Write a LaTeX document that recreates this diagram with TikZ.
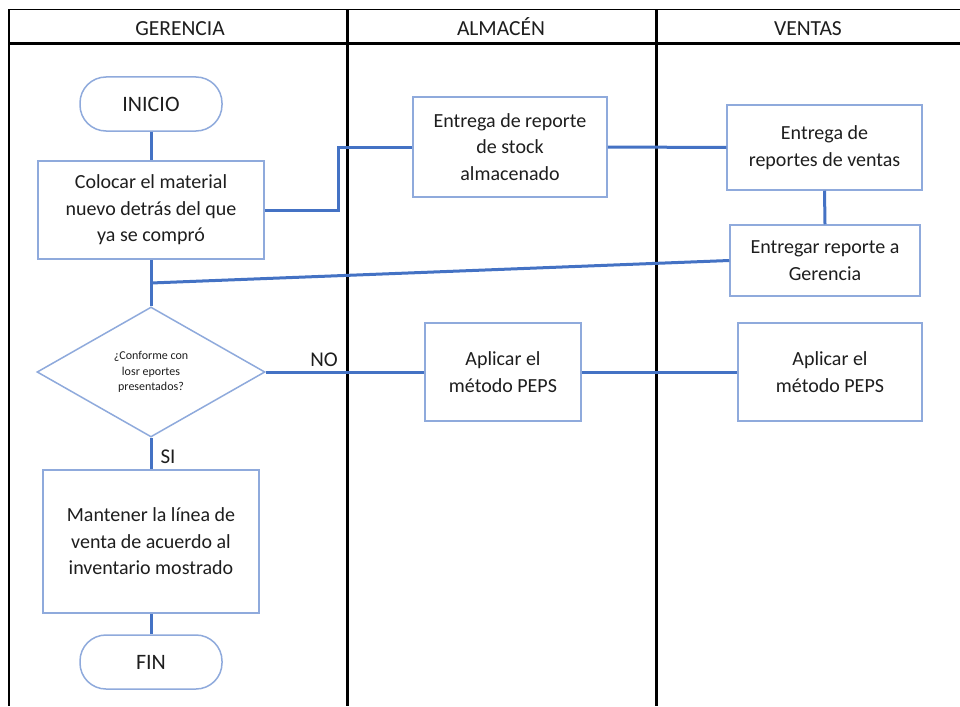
\documentclass[tikz,border=0pt]{standalone}
\usepackage{fontspec}
\setmainfont{Carlito}
\usetikzlibrary{shapes.geometric}
\definecolor{conn}{RGB}{68,114,196}
\definecolor{bord}{RGB}{143,170,220}
\definecolor{txt}{RGB}{30,30,30}
\begin{document}
\begin{tikzpicture}[x=1pt,y=-1pt,
  proc/.style={draw=bord, line width=1.5pt, fill=white, inner sep=0pt, align=center,
    font=\fontsize{20}{26.5}\selectfont, text=txt},
  term/.style={proc, rounded corners=26pt, minimum width=142pt, minimum height=54pt,
    font=\fontsize{22}{26}\selectfont},
  decis/.style={draw=bord, line width=1.5pt, fill=white, diamond, inner sep=0pt, align=center,
    minimum width=228pt, minimum height=130pt, font=\fontsize{12}{15.5}\selectfont, text=txt},
  link/.style={draw=conn, line width=3pt},
  lane/.style={draw=black, line width=3pt},
  thinlane/.style={draw=black, line width=1.5pt},
  head/.style={font=\fontsize{21.5}{24}\selectfont, text=txt, anchor=base},
  lbl/.style={font=\fontsize{21}{24}\selectfont, text=txt}
]
\useasboundingbox (0,0) rectangle (960,706);
\fill[white] (0,0) rectangle (960,706);

% swimlane frame
\coordinate (tl) at (9,9.5);
\coordinate (tr) at (960,9.5);
\coordinate (hl) at (9,43.5);
\coordinate (hr) at (960,43.5);
\coordinate (bl) at (9,706);
\coordinate (d1t) at (347,9.5);
\coordinate (d1b) at (347,706);
\coordinate (d2t) at (656,9.5);
\coordinate (d2b) at (656,706);
\draw[thinlane] (tl) -- (tr);
\draw[thinlane] (tl) -- (bl);
\draw[lane] (d1t) -- (d1b);
\draw[lane] (d2t) -- (d2b);
\draw[draw=black, line width=3.5pt] (hl) -- (hr);

\node[head] (hg) at (180,35.5) {GERENCIA};
\node[head] (ha) at (501,35.5) {ALMACÉN};
\node[head] (hv) at (808,35.5) {VENTAS};

% nodes
\node[term] (inicio) at (151,104) {INICIO};
\node[proc, minimum width=226pt, minimum height=98pt] (colocar) at (151,210)
  {Colocar el material\\nuevo detrás del que\\ya se compró};
\node[proc, minimum width=194pt, minimum height=100pt] (entrega) at (510,147)
  {Entrega de reporte\\de stock\\almacenado};
\node[proc, minimum width=195pt, minimum height=85pt] (ventas1) at (824.5,147.5)
  {Entrega de\\reportes de ventas};
\node[proc, minimum width=190pt, minimum height=71pt] (ventas2) at (825,260.5)
  {Entregar reporte a\\Gerencia};
\node[decis] (decision) at (151,372)
  {¿Conforme con\\losr eportes\\presentados?};
\node[proc, minimum width=156pt, minimum height=98pt] (aplicar1) at (503,372)
  {Aplicar el\\método PEPS};
\node[proc, minimum width=184pt, minimum height=98pt] (aplicar2) at (830,372)
  {Aplicar el\\método PEPS};
\node[proc, minimum width=216pt, minimum height=143pt] (mantener) at (151,541.5)
  {Mantener la línea de\\venta de acuerdo al\\inventario mostrado};
\node[term] (fin) at (151,662) {FIN};

% junction coordinates
\coordinate (jx) at (338,0);
\coordinate (jm) at (151,283);

% connectors
\draw[link] (inicio) -- (colocar);
\draw[link] (colocar.east) -- (colocar.east -| jx) |- (entrega.west);
\draw[link] (entrega.east) -- (ventas1.west);
\draw[link] (ventas1.south) -- (ventas2.north);
\draw[link] (ventas2.west) -- (jm);
\draw[link] (colocar.south) -- (decision.north);
\draw[link] (decision.east) -- (aplicar1.west);
\draw[link] (aplicar1.east) -- (aplicar2.west);
\draw[link] (decision.south) -- (mantener.north);
\draw[link] (mantener.south) -- (fin.north);

\node[lbl] (no) at (324,360) {NO};
\node[lbl] (si) at (168,457) {SI};
\end{tikzpicture}
\end{document}
